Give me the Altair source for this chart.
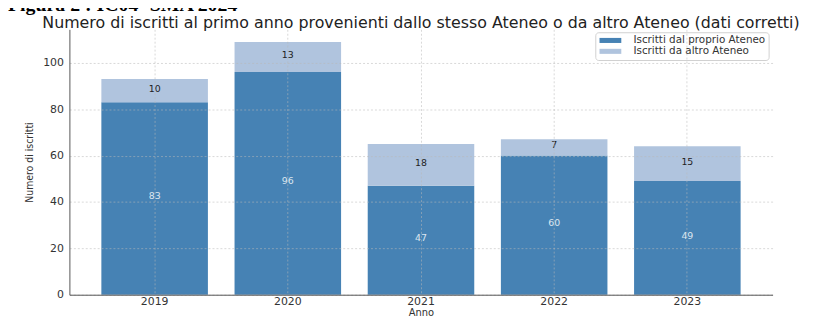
import altair as alt
import pandas as pd

anni = ["2019", "2020", "2021", "2022", "2023"]
propri = [83, 96, 47, 60, 49]
altri = [10, 13, 18, 7, 15]
serie = ["Iscritti dal proprio Ateneo", "Iscritti da altro Ateneo"]
colori = ["#4682b4", "#b0c4de"]
y_ticks = [0, 20, 40, 60, 80, 100]
titolo = "Numero di iscritti al primo anno provenienti dallo stesso Ateneo o da altro Ateneo (dati corretti)"
didascalia = "Figura 2 : IC04- SMA 2024"

rows = []
for i, a in enumerate(anni):
    rows.append({"anno": a, "serie": serie[0], "valore": propri[i], "ord": 0})
    rows.append({"anno": a, "serie": serie[1], "valore": altri[i], "ord": 1})
df = pd.DataFrame(rows)

W, H = 710, 268

base = alt.Chart(df).transform_stack(
    stack="valore", groupby=["anno"], as_=["y0", "y1"],
    sort=[alt.SortField("ord", order="ascending")]
).transform_calculate(mid="(datum.y0 + datum.y1) / 2")

x_enc = alt.X(
    "anno:N",
    sort=anni,
    scale=alt.Scale(paddingInner=0.2, paddingOuter=0.24),
    axis=alt.Axis(
        title="Anno", labelAngle=0, ticks=False, labelPadding=1,
        labelFont="DejaVu Sans", labelFontSize=11, labelColor="#333",
        titleFont="DejaVu Sans", titleFontSize=10, titleFontWeight="normal",
        titleColor="#333", titlePadding=1,
        grid=True, gridColor="#b8b8b8", gridOpacity=0.55, gridDash=[2, 2],
        domainColor="#555", zindex=1,
    ),
)

y_axis = alt.Axis(
    values=y_ticks, title="Numero di iscritti", ticks=False, labelPadding=6,
    labelFont="DejaVu Sans", labelFontSize=11, labelColor="#333",
    titleFont="DejaVu Sans Condensed", titleFontSize=10.5, titleFontWeight="normal",
    titleColor="#333", titlePadding=8,
    grid=True, gridColor="#b8b8b8", gridOpacity=0.55, gridDash=[2, 2],
    domainColor="#555", zindex=1,
)
y_scale = alt.Scale(domain=[0, 114.45], nice=False, zero=True)

bars = base.mark_bar().encode(
    x=x_enc,
    y=alt.Y("y0:Q", scale=y_scale, axis=y_axis),
    y2="y1:Q",
    fill=alt.Fill(
        "serie:N",
        scale=alt.Scale(domain=serie, range=colori),
        legend=alt.Legend(
            title=None, orient="none", legendX=531, legendY=3,
            symbolType="M-1.33,-0.85H6V0.85H-1.33Z", symbolSize=36, symbolStrokeWidth=0,
            symbolOpacity=1, labelFont="DejaVu Sans", labelFontSize=10.5,
            labelColor="#333", labelOffset=25, rowPadding=0,
            padding=3, strokeColor="#d0d0d0", fillColor="white", cornerRadius=3,
        ),
    ),
)

labels = base.mark_text(font="DejaVu Sans", fontSize=9.5, fontWeight=500, dy=-2).encode(
    x=alt.X("anno:N", sort=anni),
    y=alt.Y("mid:Q", scale=y_scale),
    text=alt.Text("valore:Q"),
    color=alt.condition("datum.ord == 0", alt.value("#dce6f0"), alt.value("#222")),
)

caption = alt.Chart(pd.DataFrame({"t": [didascalia]})).mark_text(
    align="left", baseline="alphabetic", font="Liberation Serif",
    fontWeight="bold", fontSize=20, color="#000"
).encode(x=alt.value(-62), y=alt.value(-18), text="t:N")

chart = alt.layer(bars, labels, caption).properties(
    width=W, height=H,
    title=alt.TitleParams(
        text=titolo, anchor="middle", frame="group", dy=40, font="DejaVu Sans",
        fontSize=16, fontWeight="normal", color="#222", offset=4,
    ),
    autosize=alt.AutoSizeParams(type="none"),
    padding={"left": 62, "top": 20, "right": 60, "bottom": 22},
).configure_view(stroke=None)

chart.save("out.html", embed_options={"renderer": "svg", "actions": False})
